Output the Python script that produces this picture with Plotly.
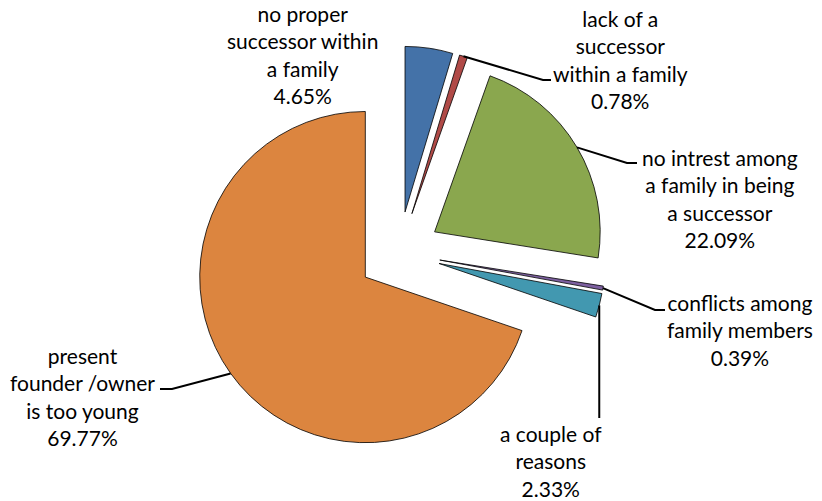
import math
import plotly.graph_objects as go

# ---- data ----
labels = [
    "no proper<br>successor within<br>a family",
    "lack of a<br>successor<br>within a family",
    "no intrest among<br>a family in being<br>a successor",
    "conflicts among<br>family members",
    "a couple of<br>reasons",
    "present<br>founder /owner<br>is too young",
]
values = [4.65, 0.78, 22.09, 0.39, 2.33, 69.77]
colors = ["#4472A8", "#B04A47", "#8AA74E", "#7D60A0", "#4298B0", "#DC853F"]
pull = 0.25

# ---- layout geometry (pixels) ----
FW, FH = 822, 501
L, R, T, B = 0, 24, 46, 41
W, H = FW - L - R, FH - T - B
cx, cy = L + W / 2, T + H / 2
rad = min(W, H) / (2 + 2 * pull)


def paper(px, py):
    return (px - L) / W, 1 - (py - T) / H


# label block centers and leader-line elbows (pixels); None x = vertical drop
label_pos = [(302, 55), (620, 59), (720, 198.5), (740, 330), (551, 461), (82, 396)]
elbows = [
    None,
    [(543, 80), (551, 80)],
    [(627, 163), (637, 163)],
    [(655, 310), (665, 310)],
    [(None, 418)],
    [(172, 389), (160, 389)],
]

fig = go.Figure(
    go.Pie(
        labels=labels,
        values=values,
        sort=False,
        direction="clockwise",
        rotation=0,
        pull=[pull] * len(values),
        marker=dict(colors=colors, line=dict(color="#000000", width=0.8)),
        textinfo="none",
        hoverinfo="skip",
        showlegend=False,
        domain=dict(x=[0, 1], y=[0, 1]),
    )
)

total = sum(values)
cum = 0
annotations = []
shapes = []
for i, v in enumerate(values):
    mid = (cum + v / 2) / total * 2 * math.pi
    cum += v
    sx = cx + rad * (1 + pull) * math.sin(mid)
    sy = cy - rad * (1 + pull) * math.cos(mid)
    lx, ly = label_pos[i]
    xp, yp = paper(lx, ly)
    annotations.append(
        dict(
            x=xp, y=yp, xref="paper", yref="paper",
            text=f"{labels[i]}<br>{v:.2f}%",
            showarrow=False, align="center",
            xanchor="center", yanchor="middle",
            font=dict(family="Lato", size=21, color="#000000"),
        )
    )
    if elbows[i]:
        pts = [(sx, sy)] + [((sx if px is None else px), py) for px, py in elbows[i]]
        path = ""
        for j, (px, py) in enumerate(pts):
            a, b = paper(px, py)
            path += ("M" if j == 0 else "L") + f"{a:.5f},{b:.5f} "
        shapes.append(
            dict(type="path", path=path.strip(), xref="paper", yref="paper",
                 line=dict(color="#000000", width=2))
        )

fig.update_layout(
    width=FW, height=FH,
    margin=dict(l=L, r=R, t=T, b=B, autoexpand=False),
    paper_bgcolor="white", plot_bgcolor="white",
    annotations=annotations, shapes=shapes,
)

fig.write_html("out.html")
